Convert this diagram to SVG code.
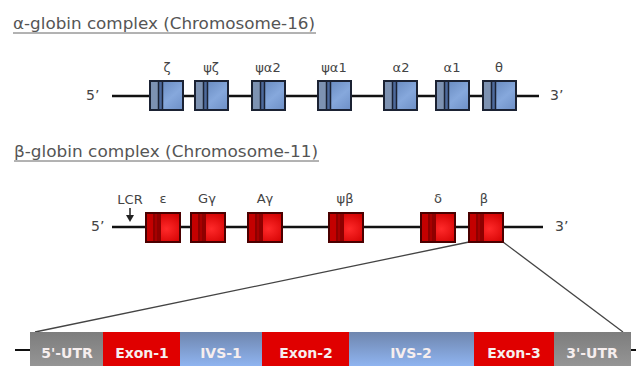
<svg xmlns="http://www.w3.org/2000/svg" width="636" height="366" viewBox="0 0 636 366">
<defs>
<style>
.title{font-family:"DejaVu Sans","Liberation Sans",sans-serif;font-size:16px;fill:#555;}
.lbl{font-family:"DejaVu Sans","Liberation Sans",sans-serif;font-size:13px;fill:#444;text-anchor:middle;}
.end{font-family:"DejaVu Sans","Liberation Sans",sans-serif;font-size:14px;fill:#444;}
.chr{stroke:#111;stroke-width:2.5;fill:none;}
.link{stroke:#444;stroke-width:1.3;fill:none;}
.seg{font-family:"DejaVu Sans","Liberation Sans",sans-serif;font-size:14px;font-weight:bold;fill:#f6eeee;text-anchor:middle;}
</style>
<linearGradient id="gBlue" x1="0" y1="0" x2="1" y2="1">
<stop offset="0" stop-color="#5d7fb5"/><stop offset="0.6" stop-color="#86a8dc"/><stop offset="1" stop-color="#6d8fc6"/>
</linearGradient>
<radialGradient id="gRed" cx="0.6" cy="0.55" r="0.6">
<stop offset="0" stop-color="#ff2a2a"/><stop offset="1" stop-color="#d20000"/>
</radialGradient>
<linearGradient id="gGray" x1="0" y1="0" x2="0" y2="1">
<stop offset="0" stop-color="#7d7d7d"/><stop offset="1" stop-color="#959595"/>
</linearGradient>
<linearGradient id="gIvs" x1="0" y1="0" x2="0" y2="1">
<stop offset="0" stop-color="#6f86ae"/><stop offset="1" stop-color="#8fb4f0"/>
</linearGradient>
<g id="abox">
<rect x="0" y="0" width="33" height="29" fill="url(#gBlue)"/>
<rect x="0" y="0" width="8" height="29" fill="#7d92b2"/>
<rect x="8" y="0" width="5" height="29" fill="#4d6a9c"/>
<line x1="8.5" y1="0" x2="8.5" y2="29" stroke="#1b2233" stroke-width="1.5"/>
<line x1="12.5" y1="0" x2="12.5" y2="29" stroke="#1b2233" stroke-width="1.5"/>
<rect x="0" y="0" width="33" height="29" fill="none" stroke="#1b2233" stroke-width="2"/>
</g>
<g id="bbox">
<rect x="0" y="0" width="34" height="29" fill="url(#gRed)"/>
<rect x="0" y="0" width="7" height="29" fill="#c40000"/>
<rect x="7" y="0" width="8" height="29" fill="#8e0000"/>
<line x1="10" y1="0" x2="10" y2="29" stroke="#c00000" stroke-width="1"/>
<rect x="0" y="0" width="34" height="29" fill="none" stroke="#4a0000" stroke-width="2"/>
</g>
</defs>
<rect width="636" height="366" fill="#fff"/>

<g id="title-alpha">
<text class="title" x="13" y="29" textLength="302" lengthAdjust="spacingAndGlyphs">α-globin complex (Chromosome-16)</text>
<line x1="13" y1="33" x2="316" y2="33" stroke="#666" stroke-width="1"/>
</g>
<g id="title-beta">
<text class="title" x="14" y="157" textLength="304" lengthAdjust="spacingAndGlyphs">β-globin complex (Chromosome-11)</text>
<line x1="14" y1="161" x2="319" y2="161" stroke="#666" stroke-width="1"/>
</g>

<g id="connectors">
<line class="chr" x1="112" y1="96" x2="539" y2="96"/>
<line class="chr" x1="112" y1="227" x2="543" y2="227"/>
<line class="link" x1="469" y1="242" x2="35" y2="332"/>
<line class="link" x1="503" y1="242" x2="623" y2="332"/>
<line stroke="#111" stroke-width="2" x1="15" y1="350" x2="30" y2="350"/>
<line stroke="#111" stroke-width="2" x1="631" y1="350" x2="636" y2="350"/>
</g>

<g id="alpha-ends">
<text class="end" x="86" y="100">5’</text>
<text class="end" x="550" y="100">3’</text>
</g>
<g id="zeta"><use href="#abox" x="150" y="81"/><text class="lbl" x="167" y="72">ζ</text></g>
<g id="psi-zeta"><use href="#abox" x="195" y="81"/><text class="lbl" x="211" y="72">ψζ</text></g>
<g id="psi-alpha2"><use href="#abox" x="252" y="81"/><text class="lbl" x="268" y="72">ψα2</text></g>
<g id="psi-alpha1"><use href="#abox" x="318" y="81"/><text class="lbl" x="334" y="72">ψα1</text></g>
<g id="alpha2"><use href="#abox" x="384" y="81"/><text class="lbl" x="401" y="72">α2</text></g>
<g id="alpha1"><use href="#abox" x="436" y="81"/><text class="lbl" x="452" y="72">α1</text></g>
<g id="theta"><use href="#abox" x="483" y="81"/><text class="lbl" x="499" y="72">θ</text></g>

<g id="beta-ends">
<text class="end" x="91" y="231">5’</text>
<text class="end" x="555" y="231">3’</text>
</g>
<g id="lcr">
<text class="lbl" x="130" y="204">LCR</text>
<line x1="130" y1="208" x2="130" y2="216" stroke="#222" stroke-width="1.5"/>
<polygon points="126,215 134,215 130,222" fill="#222"/>
</g>
<g id="epsilon"><use href="#bbox" x="146" y="213"/><text class="lbl" x="163" y="203">ε</text></g>
<g id="g-gamma"><use href="#bbox" x="191" y="213"/><text class="lbl" x="207" y="203">Gγ</text></g>
<g id="a-gamma"><use href="#bbox" x="248" y="213"/><text class="lbl" x="265" y="203">Aγ</text></g>
<g id="psi-beta"><use href="#bbox" x="329" y="213"/><text class="lbl" x="345" y="203">ψβ</text></g>
<g id="delta"><use href="#bbox" x="421" y="213"/><text class="lbl" x="438" y="203">δ</text></g>
<g id="beta"><use href="#bbox" x="469" y="213"/><text class="lbl" x="484" y="203">β</text></g>

<g id="utr5"><rect x="30" y="332" width="74" height="34" fill="url(#gGray)"/><text class="seg" x="67" y="358">5'-UTR</text></g>
<g id="exon1"><rect x="103" y="332" width="78" height="34" fill="#e00000"/><text class="seg" x="142" y="358">Exon-1</text></g>
<g id="ivs1"><rect x="180" y="332" width="82" height="34" fill="url(#gIvs)"/><text class="seg" x="221" y="358">IVS-1</text></g>
<g id="exon2"><rect x="262" y="332" width="88" height="34" fill="#e00000"/><text class="seg" x="306" y="358">Exon-2</text></g>
<g id="ivs2"><rect x="349" y="332" width="125" height="34" fill="url(#gIvs)"/><text class="seg" x="411" y="358">IVS-2</text></g>
<g id="exon3"><rect x="474" y="332" width="80" height="34" fill="#e00000"/><text class="seg" x="514" y="358">Exon-3</text></g>
<g id="utr3"><rect x="554" y="332" width="77" height="34" fill="url(#gGray)"/><text class="seg" x="592" y="358">3'-UTR</text></g>
</svg>
